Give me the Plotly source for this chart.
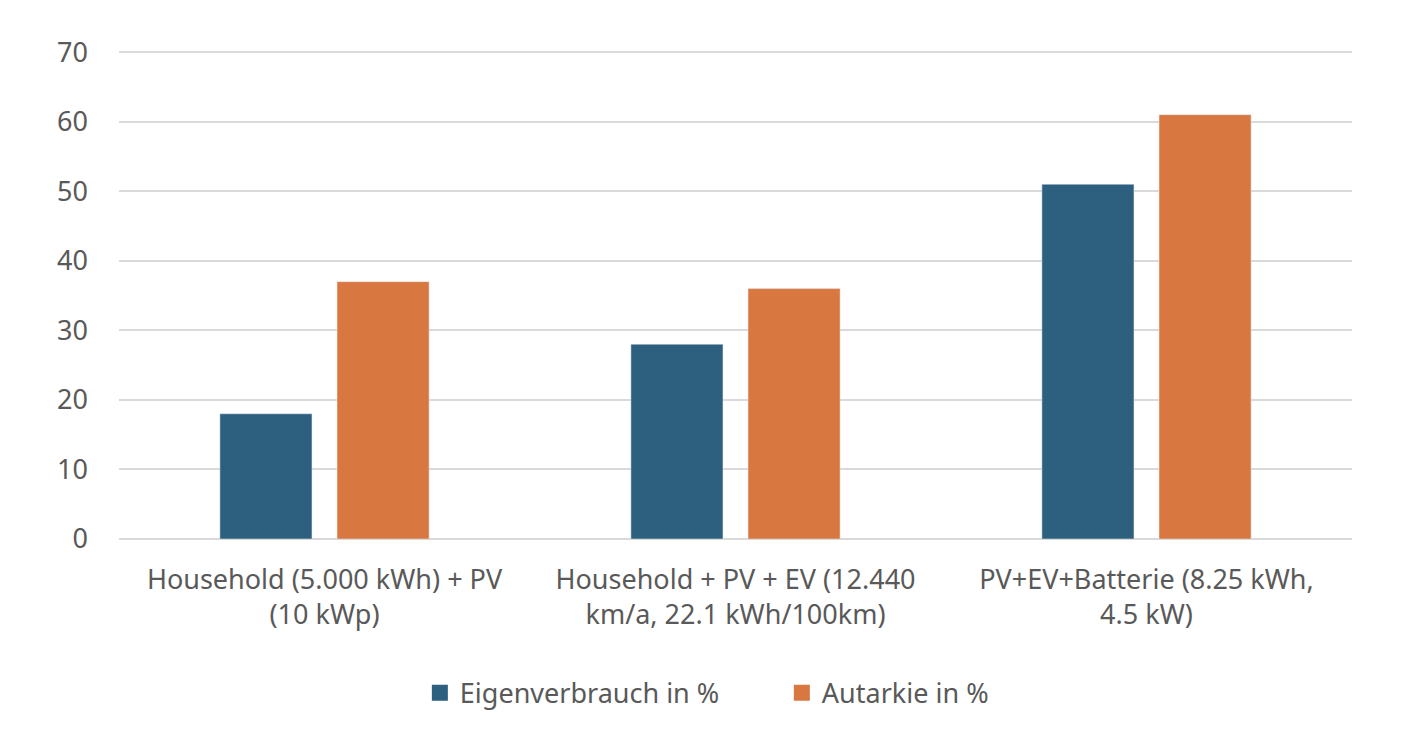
import plotly.graph_objects as go

categories = [
    "Household (5.000 kWh) + PV<br>(10 kWp)",
    "Household + PV + EV (12.440<br>km/a, 22.1 kWh/100km)",
    "PV+EV+Batterie (8.25 kWh,<br>4.5 kW)",
]
series_names = ["Eigenverbrauch in %", "Autarkie in %"]
eigenverbrauch = [18, 28, 51]
autarkie = [37, 36, 61]
y_ticks = [0, 10, 20, 30, 40, 50, 60, 70]
colors = ["#2d5f7e", "#d87840"]

font_family = "Noto Sans"
text_color = "#595959"
fs = 27

fig = go.Figure()
for name, vals, col in zip(series_names, [eigenverbrauch, autarkie], colors):
    fig.add_trace(go.Bar(name=name, x=categories, y=vals, marker_color=col,
                         showlegend=False))
# legend entries with larger square swatches
for name, col in zip(series_names, colors):
    fig.add_trace(go.Scatter(name=name, x=[None], y=[None], mode="markers",
                             marker=dict(symbol="square", size=16, color=col),
                             showlegend=True))

fig.update_layout(
    width=1416, height=730,
    margin=dict(l=111, r=72, t=42, b=199),
    paper_bgcolor="white", plot_bgcolor="white",
    barmode="group", bargap=0.43, bargroupgap=0.214,
    font=dict(family=font_family, size=fs, color=text_color),
    legend=dict(orientation="h", x=0.244, xanchor="left", y=-0.265, yanchor="top",
                font=dict(size=fs, color=text_color), itemwidth=30,
                entrywidth=317, entrywidthmode="pixels",
                traceorder="normal"),
    showlegend=True,
)
fig.update_xaxes(showgrid=False, showline=False, ticks="", ticklabelstandoff=22,
                 tickfont=dict(size=fs, color=text_color))
fig.update_yaxes(range=[0, 70.3], tickvals=y_ticks, showgrid=True, gridcolor="#d9d9d9",
                 gridwidth=1.5, zeroline=True, zerolinecolor="#d9d9d9", zerolinewidth=1.5,
                 showline=False, ticks="", ticklabelstandoff=30,
                 tickfont=dict(size=fs, color=text_color))

fig.write_html("out.html")
